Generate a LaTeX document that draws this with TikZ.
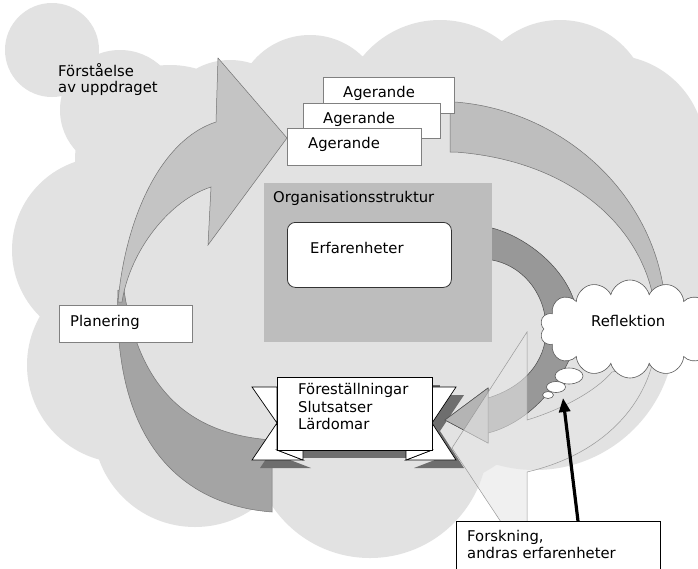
\documentclass[tikz,border=0pt]{standalone}
\usepackage{fontspec}
\setmainfont{DejaVu Sans}
\usetikzlibrary{shapes.symbols,shapes.geometric,arrows.meta}
\definecolor{cloudbg}{HTML}{E2E2E2}
\definecolor{bandL}{HTML}{A4A4A4}
\definecolor{arrUL}{HTML}{C4C4C4}
\definecolor{arrTR}{HTML}{BEBEBE}
\definecolor{arrD}{HTML}{989898}
\definecolor{arrDhead}{HTML}{B4B4B4}
\definecolor{arrE}{HTML}{E6E6E6}
\definecolor{orgfill}{HTML}{BDBDBD}
\definecolor{ribshadow}{HTML}{6E6E6E}
\definecolor{edgegray}{HTML}{808080}
\tikzset{
  boxnode/.style={draw=edgegray, fill=white, line width=0.7pt, anchor=north west, inner sep=0pt},
  txt/.style={anchor=base west, inner sep=0pt},
  shapeedge/.style={draw=black!55, line width=0.5pt},
}
\begin{document}
\begin{tikzpicture}[x=1pt, y=-1pt, font=\fontsize{14.8}{17}\selectfont]
\useasboundingbox (0,0) rectangle (698,568);
\fill[white] (0,0) rectangle (698,568);
% background cloud
\fill[cloudbg]
  (52,50) circle[radius=47pt]
  (120,110) circle[radius=60pt]
  (170,160) circle[radius=95pt]
  (230,130) circle[radius=70pt]
  (310,110) circle[radius=75pt]
  (440,120) circle[radius=100pt]
  (560,110) circle[radius=90pt]
  (610,150) circle[radius=95pt]
  (640,230) circle[radius=100pt]
  (535,330) circle[radius=140pt]
  (370,440) circle[radius=118pt]
  (195,425) circle[radius=102pt]
  (125,365) circle[radius=98pt]
  (105,250) circle[radius=93pt]
  (160,330) circle[radius=110pt]
  (250,250) circle[radius=150pt]
  (480,250) circle[radius=150pt]
  (380,290) circle[radius=210pt];

% lower-left band
\path[fill=bandL, shapeedge] (118,290) .. controls (112,440) and (180,505) .. (272,512)
  -- (272,440) .. controls (200,435) and (140,400) .. (124,290) -- cycle;
% upper-left curved arrow
\path[fill=arrUL, shapeedge] (118,302) .. controls (125,220) and (160,140) .. (216,122)
  -- (218,58) -- (287,138) -- (208,245) -- (211,187)
  .. controls (170,200) and (130,250) .. (122,302) -- cycle;
% top-right band
\path[fill=arrTR, shapeedge] (450,102) -- (455,102) .. controls (560,110) and (650,190) .. (664,292)
  -- (652,292) .. controls (635,220) and (565,160) .. (455,152) -- (450,152) -- cycle;

% ribbon shadow
\begin{scope}[shift={(8,8)}]
\fill[ribshadow] (252,387) -- (277,387) -- (277,450) -- (303,460) -- (252,460) -- (277,423) -- cycle;
\fill[ribshadow] (456,387) -- (432,387) -- (432,450) -- (406,460) -- (456,460) -- (432,423) -- cycle;
\fill[ribshadow] (277,377) rectangle (432,450);
\end{scope}

% dark band from experiences to reflection and on to the ribbon
\path[fill=arrD, draw=black!70, line width=0.5pt] (480,228) -- (492,228)
  .. controls (530,238) and (575,275) .. (578,320)
  .. controls (580,360) and (540,420) .. (488,433)
  -- (488,443) -- (445,420) -- (488,388) -- (488,398)
  .. controls (530,385) and (548,355) .. (546,325)
  .. controls (544,290) and (520,265) .. (492,260) -- (480,260) -- cycle;
\path[fill=arrDhead, draw=black!70, line width=0.5pt] (488,388) -- (445,420) -- (488,443) -- cycle;

% light translucent arrow
\path[fill=arrE, fill opacity=0.6, draw=black!40, line width=0.5pt] (527,332) -- (527,420)
  .. controls (560,410) and (595,392) .. (612,372) -- (652,365)
  .. controls (640,410) and (600,455) .. (527,472) -- (527,525) -- (503,525) -- (452,448) -- cycle;

% ribbon
\draw[fill=white, line width=0.7pt] (252,387) -- (277,387) -- (277,450) -- (303,460) -- (252,460) -- (277,423) -- cycle;
\draw[fill=white, line width=0.7pt] (456,387) -- (432,387) -- (432,450) -- (406,460) -- (456,460) -- (432,423) -- cycle;
\draw[fill=white, line width=0.7pt] (277,450) -- (303,450) -- (303,460) -- cycle;
\draw[fill=white, line width=0.7pt] (432,450) -- (406,450) -- (406,460) -- cycle;
\node[draw=black, fill=white, line width=0.7pt, anchor=north west, inner sep=0pt,
      minimum width=155pt, minimum height=73pt] (rib) at (277,377) {};
\node[txt] (rib1) at (298,394) {Föreställningar};
\node[txt] (rib2) at (298,412) {Slutsatser};
\node[txt] (rib3) at (298,429) {Lärdomar};

% Agerande boxes
\node[boxnode, minimum width=131pt, minimum height=36pt] (ag1) at (323,77) {};
\node[txt] (ag1t) at (343,97) {Agerande};
\node[boxnode, minimum width=137pt, minimum height=35pt] (ag2) at (303,103) {};
\node[txt] (ag2t) at (323,123) {Agerande};
\node[boxnode, minimum width=134pt, minimum height=37pt] (ag3) at (287,128) {};
\node[txt] (ag3t) at (308,148) {Agerande};

% Planering
\node[boxnode, minimum width=133pt, minimum height=37pt] (plan) at (59,305) {};
\node[txt] (plant) at (70,326) {Planering};

% Organisation
\node[fill=orgfill, anchor=north west, inner sep=0pt, minimum width=228pt, minimum height=159pt] (org) at (264,183) {};
\node[txt] (orgt) at (273,202) {Organisationsstruktur};
\node[draw=black!80, fill=white, rounded corners=8pt, line width=0.8pt, anchor=north west, inner sep=0pt,
      minimum width=164pt, minimum height=65pt] (erf) at (287,222) {};
\node[txt] (erft) at (310,253) {Erfarenheter};

% Understanding text
\node[txt] (f1) at (58,76) {Förståelse};
\node[txt] (f2) at (58,92) {av uppdraget};

% Reflection cloud
\node[cloud, cloud puffs=14, aspect=1.9, draw=black!65, fill=white, line width=0.6pt,
      minimum width=180pt, minimum height=98pt, inner sep=0pt] (refl) at (630,329) {};
\node[txt] (reflt) at (591,326) {Reflektion};
\node[ellipse, draw=black!65, fill=white, line width=0.6pt, minimum width=28pt, minimum height=16pt, inner sep=0pt] (b1) at (569,376) {};
\node[ellipse, draw=black!65, fill=white, line width=0.6pt, minimum width=19pt, minimum height=11pt, inner sep=0pt] (b2) at (556,387) {};
\node[ellipse, draw=black!65, fill=white, line width=0.6pt, minimum width=11pt, minimum height=7pt, inner sep=0pt] (b3) at (548,395) {};

% Forskning box
\node[draw=black, fill=white, line width=0.8pt, anchor=north west, inner sep=0pt,
      minimum width=204pt, minimum height=60pt] (forsk) at (456,521) {};
\node[txt] (forskt1) at (467,541) {Forskning,};
\node[txt] (forskt2) at (467,558) {andras erfarenheter};

\coordinate (bubtip) at (563,398);
\draw[line width=3.2pt, -{Triangle[length=14pt,width=11pt]}] ([xshift=122pt]forsk.north west) -- (bubtip);
\end{tikzpicture}
\end{document}
